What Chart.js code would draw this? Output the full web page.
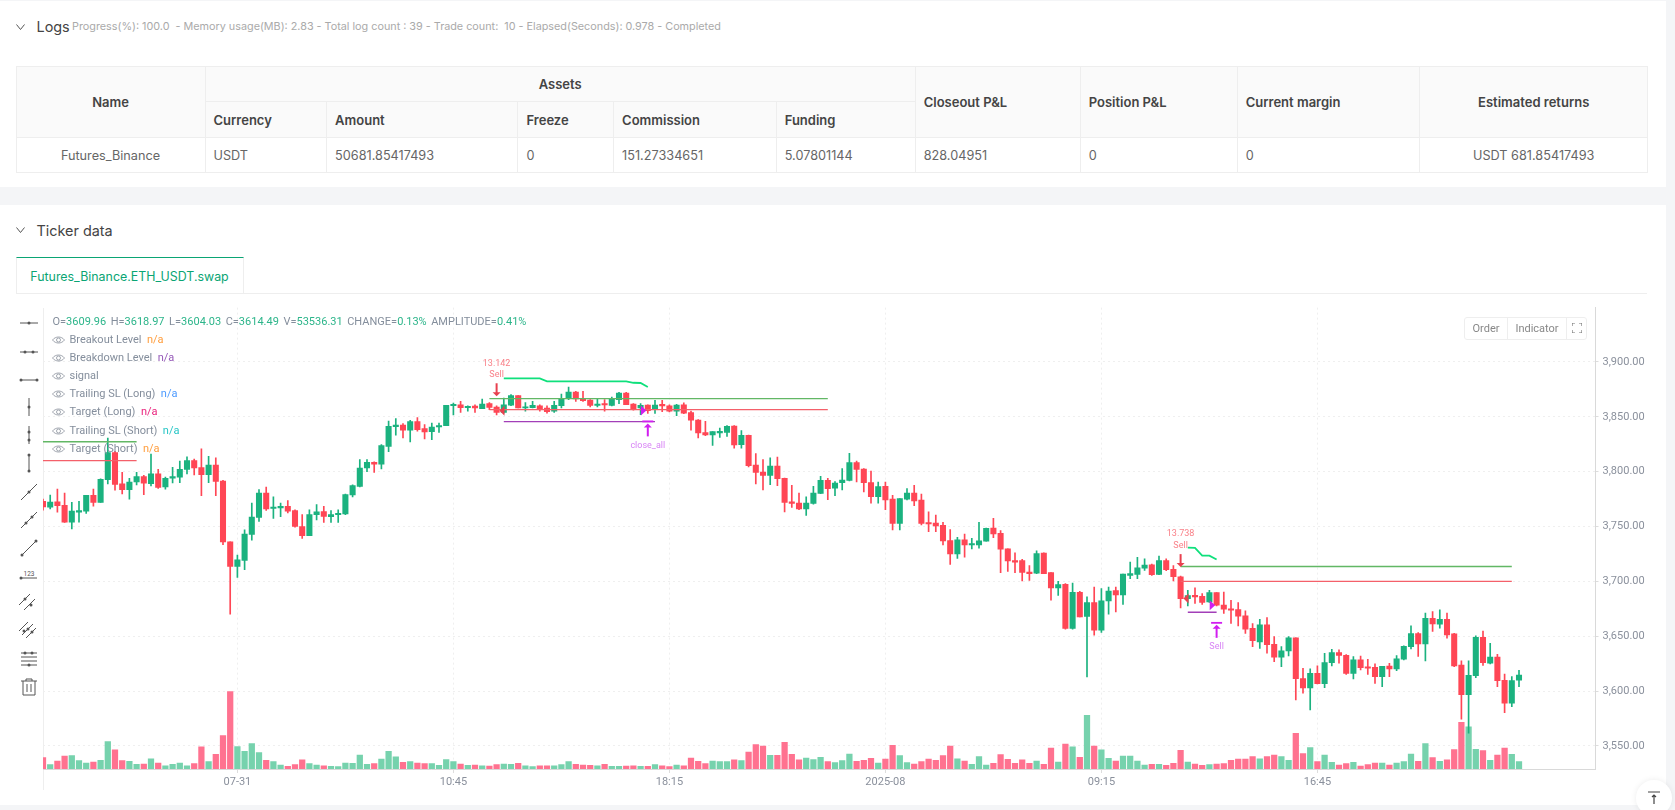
<!DOCTYPE html>
<html>
<head>
<meta charset="utf-8">
<title>Ticker data</title>
<script src="https://cdn.jsdelivr.net/npm/chart.js@4/dist/chart.umd.min.js"></script>
<style>
html,body{margin:0;padding:0;width:1675px;height:810px;overflow:hidden;background:#f4f5f7;font-family:Inter,Roboto,sans-serif}
.abs{position:absolute}
.card{position:absolute;left:0;width:1666px;background:#fff}
.head{position:absolute;font-size:14.4px;color:#444;line-height:20px}
.chev{position:absolute;left:16px;width:9px;height:6px}
#summary{position:absolute;left:72px;top:19px;font-size:10.8px;line-height:16px;color:#aaa;white-space:pre}
table{position:absolute;left:15.5px;top:66px;width:1631.5px;height:106px;table-layout:fixed;border-collapse:collapse;font-size:12.7px;color:#666}
th,td{border:1px solid #eee;padding:0 8px;text-align:left;font-weight:400;white-space:nowrap}
th{background:#fafafa;font-weight:600;color:#444;font-size:13px}
.c{text-align:center}
#tab{position:absolute;left:15.5px;top:257px;width:226px;height:35px;border-top:1px solid #0aa574;border-right:1px solid #eee;border-left:1px solid #eee;box-sizing:content-box;color:#0aa574;font-size:12.4px;line-height:37px;text-align:center}
#tabline{position:absolute;left:15.5px;top:293px;width:1631.5px;height:1px;background:#eee}
#sideline{position:absolute;left:43px;top:308px;width:1px;height:482px;background:#eee}
#wrap{position:absolute;left:43px;top:297px;width:1610px;height:503px}
#ohlc{position:absolute;left:52.5px;top:315px;font:11px/14px Roboto,sans-serif;color:#848e9c;white-space:pre;word-spacing:-.45px}
#ohlc b{font-weight:400;color:#2cb58a}
.lg{position:absolute;left:52px;height:14px;font:11px/14px Roboto,sans-serif;color:#848e9c;white-space:pre}
.lg svg{position:absolute;left:0;top:2px}
.lg span{position:absolute;left:17.5px}
#btns{position:absolute;left:1464px;top:317px;width:121px;height:21px;border:1px solid #eee;border-radius:3px;background:#fff;font:11px/21px Roboto,sans-serif;color:#888}
#btns div{position:absolute;top:0;height:21px;text-align:center}
#totop{position:absolute;left:1636px;top:780px;width:36px;height:36px;border-radius:18px;background:#fff;box-shadow:0 0 6px rgba(0,0,0,.08)}
</style>
</head>
<body>
<div class="card" style="top:1px;height:186px"></div>
<div class="card" style="top:205px;height:600px"></div>

<svg class="chev" style="top:24px" viewBox="0 0 9 6"><path d="M.5.5 4.5 5.5 8.5.5" fill="none" stroke="#555"/></svg>
<div class="head" style="left:36.5px;top:17px">Logs</div>
<div id="summary">Progress(%): 100.0  - Memory usage(MB): 2.83 - Total log count : 39 - Trade count:  10 - Elapsed(Seconds): 0.978 - Completed</div>

<table>
<colgroup><col style="width:189px"><col style="width:121.6px"><col style="width:191.4px"><col style="width:95.6px"><col style="width:162.6px"><col style="width:139px"><col style="width:165px"><col style="width:157px"><col style="width:182.7px"><col style="width:227.6px"></colgroup>
<tr style="height:35px"><th rowspan="2" class="c">Name</th><th colspan="5" class="c">Assets</th><th rowspan="2">Closeout P&amp;L</th><th rowspan="2">Position P&amp;L</th><th rowspan="2">Current margin</th><th rowspan="2" class="c">Estimated returns</th></tr>
<tr style="height:36px"><th>Currency</th><th>Amount</th><th>Freeze</th><th>Commission</th><th>Funding</th></tr>
<tr style="height:35px"><td class="c">Futures_Binance</td><td>USDT</td><td>50681.85417493</td><td>0</td><td>151.27334651</td><td>5.07801144</td><td>828.04951</td><td>0</td><td>0</td><td class="c">USDT 681.85417493</td></tr>
</table>

<svg class="chev" style="top:227px" viewBox="0 0 9 6"><path d="M.5.5 4.5 5.5 8.5.5" fill="none" stroke="#555"/></svg>
<div class="head" style="left:36.5px;top:221px">Ticker data</div>
<div id="tab">Futures_Binance.ETH_USDT.swap</div>
<div id="tabline"></div>

<div id="sideline"></div>
<div id="wrap"><canvas id="chart" width="1610" height="503"></canvas></div>

<div id="ohlc"></div>
<div id="legend"></div>
<div id="tools"></div>

<div id="btns">
  <div style="left:0;width:42px;border-right:1px solid #eee">Order</div>
  <div style="left:43px;width:58px;border-right:1px solid #eee">Indicator</div>
  <svg class="abs" style="left:107px;top:5px" width="10" height="10" viewBox="0 0 10 10"><path d="M0 3V0H3M7 0H10V3M10 7V10H7M3 10H0V7" fill="none" stroke="#777" stroke-width="1.2"/></svg>
</div>
<div id="totop"><svg class="abs" style="left:11px;top:11px" width="14" height="14" viewBox="0 0 14 14"><path d="M1 1H13M7 13V4M5 6 7 4 9 6" fill="none" stroke="#444" stroke-width="1.2"/></svg></div>

<script>
// 15 minute candles
var opens = [
  3773,3767.7,3772.6,3769.3,3754,3763,3764,3778.5,3772,3792.7,
  3817.3,3789,3783.5,3790.6,3795.4,3789,3798,3786,3794,3795,
  3802,3810,3803.6,3797.3,3806,3791.5,3736,3713.6,3719,3742.7,
  3758.3,3780.5,3766.5,3767,3768.4,3764.4,3750,3741.6,3760.8,3763.5,
  3759,3760.8,3761.4,3778.7,3786.6,3803.3,3808.5,3806.7,3823,3841,
  3842.5,3837.7,3845.6,3839.2,3836.4,3840.7,3841.9,3860.2,3861,3858.4,
  3859.8,3857.4,3862,3858.9,3854,3860.5,3869.3,3858,3858.3,3860,
  3858,3855,3860.2,3866.5,3872.6,3866.5,3865.3,3860.4,3862,3860.4,
  3865.6,3871.7,3861.6,3858,3860.7,3856.5,3861.3,3860,3855,3861,
  3853.8,3847,3835.5,3833.4,3835.2,3835.8,3841.6,3824.6,3833,3806,
  3799.6,3796.6,3805.1,3793.9,3772.6,3771.3,3766,3771,3780.2,3792,
  3785,3790,3792.1,3808.2,3802.4,3790,3777.3,3786.7,3775,3752.9,
  3775,3780.4,3774,3753.5,3753.2,3751,3737.2,3725,3737.8,3733.2,
  3733.2,3736.6,3748.6,3743.8,3729.6,3719,3719,3708.5,3707.5,3725.7,
  3707.9,3694,3697.3,3657.1,3690,3668,3680.7,3655.6,3682.2,3691.5,
  3687.6,3705.4,3706.3,3712,3715,3706.3,3719,3710.9,3704.2,3684.3,
  3687.3,3686.4,3681.3,3689.8,3678.3,3675,3674.3,3668.6,3657.1,3644.8,
  3660.3,3642.7,3630.9,3636.6,3648.5,3611.4,3602.9,3616.3,3606.8,3626,
  3635,3632.7,3616,3628.4,3622,3621.7,3613.2,3622.9,3620.2,3629,
  3640.6,3652.4,3643,3666.4,3661,3665.5,3652.1,3623.6,3596.8,3614.1,
  3649,3625.4,3630.9,3609.9,3589,3609.96
];
var highs = [
  3775,3778.7,3784,3780.5,3772,3773,3778.5,3784,3793.5,3830.7,
  3818.5,3799.4,3794,3799.4,3796.7,3816,3802,3795,3804,3809.7,
  3813.4,3811.5,3820.7,3814,3812.5,3792,3736,3724,3747,3771.4,
  3783.6,3786,3777,3771.4,3773.6,3765.3,3760.8,3765.3,3770,3768.4,
  3764.4,3765.3,3779.6,3788,3811,3811,3809,3824.6,3846,3848.3,
  3843.8,3846.8,3849.2,3842.8,3844.3,3844.3,3860.5,3862.5,3864,3860,
  3861,3866.2,3863,3860,3867,3870.2,3869.3,3863,3864,3861,
  3860,3864,3870.7,3877,3873.2,3873.2,3865.6,3866.2,3865.6,3868,
  3872.3,3872.3,3862,3862,3861,3865,3865,3861,3861.3,3862.6,
  3855.3,3847.4,3845.8,3836.4,3839.8,3842,3842,3837.4,3833.4,3816.4,
  3810.9,3812.7,3813.3,3794.2,3787.5,3780.5,3777,3786.5,3795.7,3794,
  3791,3802.7,3816.6,3809.7,3802.7,3800.6,3790.6,3790.6,3778.5,3775.5,
  3784.6,3787.6,3779.5,3763.4,3760.4,3753.8,3747.1,3740.2,3743.2,3739.3,
  3753.8,3748.6,3757.4,3746.2,3729.6,3726,3720,3714.5,3727.8,3726,
  3707.9,3700,3697.9,3698.5,3691,3685.8,3694.9,3693.4,3694.9,3694.9,
  3706.6,3717.5,3722,3720.5,3715.7,3723,3720.5,3714.5,3704.8,3691.8,
  3694,3688.8,3691.8,3689.8,3690.3,3682.8,3680.7,3673.1,3661.6,3665.5,
  3667,3649.7,3640.6,3649.7,3648.5,3620.8,3620.2,3623,3634.5,3638,
  3637.5,3633.3,3631.5,3632,3629,3624.8,3622.6,3625.4,3632.4,3641.2,
  3659.4,3653.3,3671,3672.5,3674,3671,3652.7,3627.5,3627.5,3650.3,
  3654.6,3643.6,3633.6,3615.6,3613.2,3618.97
];
var lows = [
  3765,3766,3763,3753.8,3747.7,3754,3762,3768.5,3772,3788.8,
  3783,3779.6,3775,3788,3779,3787,3784.8,3784,3789.7,3790,
  3798,3797,3778,3790,3778,3733.4,3670,3703.6,3710.6,3737.6,
  3754.7,3764.7,3757.4,3759,3762.3,3749.5,3739.2,3741.6,3756,3753.8,
  3753.8,3753.8,3760.8,3777,3786,3800,3799.4,3802.4,3818.2,3833.2,
  3830.7,3827,3836.8,3829.8,3829.1,3835.8,3841.9,3851.6,3854,3855,
  3854,3857.4,3856.5,3851.6,3853.4,3860.2,3858,3855,3858,3855,
  3853.4,3854,3858,3865.6,3864,3864,3859,3859,3855,3860,
  3862,3861,3856,3852,3853,3853,3854.7,3854.4,3851,3852.9,
  3837.7,3830.7,3832.8,3824,3831.3,3832,3821.3,3821.3,3804.2,3788.7,
  3783.4,3788.1,3787.2,3763.2,3767.4,3765.3,3760,3770.3,3779.9,3774.5,
  3778,3783.4,3791.5,3790.6,3781.6,3771.3,3771.3,3765.3,3747,3747,
  3774.3,3768.9,3751.4,3745.3,3745.3,3733.2,3715.4,3721,3722,3729.6,
  3730.2,3736.6,3739.9,3707.9,3709,3707.9,3700.3,3700.9,3707,3707,
  3682.8,3687.3,3656.5,3656.5,3667.7,3613,3651,3653.5,3670,3672.2,
  3678.9,3702.4,3702.4,3710,3705.4,3706,3709.7,3700.3,3675.8,3677.6,
  3679.8,3678.9,3680.7,3677.6,3670.7,3661.6,3659.5,3652.6,3640.5,3638.8,
  3634.5,3626.9,3622.3,3632,3592,3598,3582.8,3606.5,3603.2,3623,
  3625.4,3615.3,3611,3619.3,3615.3,3607.1,3604,3613.2,3618.7,3628.4,
  3638.4,3631.5,3627.5,3654.3,3657.3,3648.2,3622.3,3574.3,3561.6,3612.3,
  3623.3,3624.8,3604,3580.4,3585.9,3604.03
];
var closes = [
  3767.8,3772.3,3769,3754,3764,3764.5,3778.5,3772,3793,3817.3,
  3788.4,3783.5,3790.6,3795.4,3789.4,3798,3785.7,3794,3795.4,3802,
  3810,3803.3,3797.3,3806,3791,3736,3713.6,3719.7,3743,3758.6,
  3780.5,3766,3767.8,3768.4,3764,3750,3741.6,3760.8,3763.3,3759.3,
  3760.8,3762,3779,3787.2,3803.3,3808.5,3806.7,3823.7,3841.3,3842.5,
  3837.7,3845.6,3838.3,3836.1,3840.7,3841.9,3860.5,3861,3858.3,3859.5,
  3858,3861.6,3858.6,3854,3861,3869.3,3858,3859,3860.4,3857,
  3854.7,3860.4,3866.5,3872.6,3866.2,3864.7,3860.4,3861.3,3860.7,3866.2,
  3871.7,3861,3857.4,3860.4,3855.6,3860.7,3859.8,3855,3860.7,3853.2,
  3846.8,3835.2,3833.4,3836.4,3836.7,3841.3,3824.3,3833,3805.4,3799.3,
  3796.6,3805.1,3793.6,3772,3771,3766,3771.3,3780.5,3792,3784.5,
  3789.6,3792.4,3808.2,3802,3790,3777.3,3786.4,3774.3,3752.9,3775.5,
  3780.4,3773.4,3752.9,3752.3,3750.5,3736.9,3725,3737.8,3733.2,3734.5,
  3736.9,3748.3,3743.2,3729.3,3718.7,3717.5,3708.2,3707,3725.4,3707,
  3694,3697,3657.1,3690,3667.7,3680.7,3655.6,3682.2,3691.2,3687.6,
  3706.6,3707,3712.4,3714.8,3706,3719,3710.6,3704.2,3684.3,3687,
  3685.8,3680.7,3689.8,3678.3,3674.6,3673.7,3668.3,3656.5,3645.9,3660.3,
  3642.4,3630.9,3636.6,3648.5,3611.4,3602.9,3616.3,3606.8,3626,3635,
  3632.4,3616,3628.4,3621.4,3620.8,3613.2,3622.6,3620.2,3629.3,3640.9,
  3652.4,3643,3666.4,3661.2,3665.5,3651.2,3623,3596.8,3614.4,3649,
  3626,3630.9,3609.6,3589,3609.6,3614.49
];
// volume in thousands
var volumes = [
  83,32,58,95,97,61,44,51,63,200,
  139,61,56,34,36,75,44,24,34,44,
  24,39,161,54,107,243,564,163,129,185,
  119,63,54,29,19,32,66,39,29,24,
  19,17,44,41,102,34,39,73,129,88,
  49,54,44,39,39,27,68,54,36,27,
  29,24,22,32,36,34,41,24,17,24,
  24,24,32,54,34,29,27,24,34,19,
  19,22,24,19,19,32,24,17,29,24,
  80,56,39,58,54,54,66,61,124,178,
  168,100,100,195,107,66,80,68,85,54,
  46,61,109,56,63,78,44,73,173,97,
  46,36,54,73,63,97,168,75,58,34,
  90,29,41,105,71,41,66,41,58,34,
  153,51,182,161,85,392,168,139,78,58,
  95,95,58,29,34,34,27,41,136,51,
  36,27,32,36,39,63,73,73,90,75,
  90,102,90,63,260,112,156,54,102,49,
  29,39,49,22,32,44,44,29,44,54,
  109,56,185,83,56,66,141,341,307,144,
  134,63,102,153,107,53.536
];

var priceTicks = [3550,3600,3650,3700,3750,3800,3850,3900];
var timeTickIdx = [27,57,87,117,147,177];
var timeTickLabels = ['07-31','10:45','18:15','2025-08','09:15','16:45'];

// breakout / stop levels of the two trades
var greenLevelStart = [0,62,158];
var greenLevelEnd = [13,109,204];
var greenLevelPrice = [3827.3,3866.5,3713.5];
var redLevelStart = [0,62,158];
var redLevelEnd = [13,109,204];
var redLevelPrice = [3810,3856.5,3700];
var purpleLevelStart = [64,159];
var purpleLevelEnd = [85,163];
var purpleLevelPrice = [3845.6,3671.9];

var trailIdxA = [64,69,70,81,82,83,84];
var trailPriceA = [3885,3885,3882.3,3882.3,3881,3880.8,3877.2];
var trailIdxB = [159,160,161,162,163];
var trailPriceB = [3730.8,3730.5,3723.5,3723.5,3720];

// trade marks
var sellIdx = [63,158];
var sellTip = [3868.7,3713];
var sellText = ['13.142','13.738'];
var closeIdx = [84,163];
var closeTip = [3845.8,3662.2];
var closeText = ['close_all','Sell'];
var entryIdx = [63.4,158.4];
var entryPrice = [3855.5,3684.3];
var exitIdx = [83.8,162.8];
var exitPrice = [3855.8,3678.2];

var upColor = '#1bb27f', downColor = '#ff4655';
var upVol = '#76d2ad', downVol = '#ff7290';

function isUp(i) { return closes[i] >= opens[i]; }

function segment(a, b, price) {
  return [{x: a, y: price}, {x: b, y: price}];
}

var datasets = [];
datasets.push({
  type: 'bar', yAxisID: 'yVol', grouped: false, order: 30, barThickness: 5.6,
  data: volumes.map(function (v, i) { return {x: i, y: v}; }),
  backgroundColor: volumes.map(function (v, i) { return isUp(i) ? upVol : downVol; })
});
datasets.push({
  type: 'bar', yAxisID: 'y', grouped: false, order: 20, barThickness: 1,
  data: highs.map(function (h, i) { return {x: i, y: [lows[i], h]}; }),
  backgroundColor: highs.map(function (h, i) { return isUp(i) ? upColor : downColor; })
});
datasets.push({
  type: 'bar', yAxisID: 'y', grouped: false, order: 10, barThickness: 5.4, minBarLength: 1.2,
  data: opens.map(function (o, i) { return {x: i, y: [o, closes[i]]}; }),
  backgroundColor: opens.map(function (o, i) { return isUp(i) ? upColor : downColor; })
});

function addLevels(starts, ends, prices, color) {
  starts.forEach(function (s, k) {
    datasets.push({
      type: 'line', yAxisID: 'y', order: 5, data: segment(s, ends[k], prices[k]),
      borderColor: color, borderWidth: 1.4, pointRadius: 0
    });
  });
}
addLevels(greenLevelStart, greenLevelEnd, greenLevelPrice, '#62b765');
addLevels(redLevelStart, redLevelEnd, redLevelPrice, '#f4606a');
addLevels(purpleLevelStart, purpleLevelEnd, purpleLevelPrice, '#a23fb8');

[[trailIdxA, trailPriceA], [trailIdxB, trailPriceB]].forEach(function (t) {
  datasets.push({
    type: 'line', yAxisID: 'y', order: 4,
    data: t[0].map(function (x, k) { return {x: x, y: t[1][k]}; }),
    borderColor: '#0fe07c', borderWidth: 1.8, pointRadius: 0
  });
});

function triangle(c, x1, y1, x2, y2, x3, y3) {
  c.beginPath(); c.moveTo(x1, y1); c.lineTo(x2, y2); c.lineTo(x3, y3); c.closePath(); c.fill();
}

// arrows and the small text next to them
var tradeMarks = {
  id: 'tradeMarks',
  afterDatasetsDraw: function (chart) {
    var c = chart.ctx, x = chart.scales.x, y = chart.scales.y;
    c.save();
    c.font = '9px Roboto';
    c.textAlign = 'center';
    c.textBaseline = 'middle';
    sellIdx.forEach(function (idx, k) {
      var px = x.getPixelForValue(idx), tip = y.getPixelForValue(sellTip[k]);
      c.strokeStyle = c.fillStyle = '#e8404e';
      c.lineWidth = 2;
      c.beginPath(); c.moveTo(px, tip - 13); c.lineTo(px, tip - 3); c.stroke();
      triangle(c, px - 4, tip - 4, px + 4, tip - 4, px, tip);
      c.fillStyle = '#f98088';
      c.fillText('Sell', px, tip - 21.5);
      c.fillText(sellText[k], px, tip - 33);
    });
    closeIdx.forEach(function (idx, k) {
      var px = x.getPixelForValue(idx), tip = y.getPixelForValue(closeTip[k]);
      c.strokeStyle = c.fillStyle = '#d11ef0';
      c.lineWidth = 1.8;
      c.beginPath(); c.moveTo(px - 5.5, tip); c.lineTo(px + 5.5, tip); c.stroke();
      c.lineWidth = 2;
      c.beginPath(); c.moveTo(px, tip + 5); c.lineTo(px, tip + 15); c.stroke();
      triangle(c, px - 4, tip + 6, px + 4, tip + 6, px, tip + 2);
      c.fillStyle = '#d884f5';
      c.fillText(closeText[k], px, tip + 24);
    });
    entryIdx.forEach(function (idx, k) {
      var px = x.getPixelForValue(idx), py = y.getPixelForValue(entryPrice[k]);
      c.fillStyle = '#e8404e';
      triangle(c, px, py, px + 5, py - 5, px + 5, py + 5);
    });
    exitIdx.forEach(function (idx, k) {
      var px = x.getPixelForValue(idx), py = y.getPixelForValue(exitPrice[k]);
      c.fillStyle = '#d11ef0';
      triangle(c, px, py, px - 5.5, py - 5, px - 5.5, py + 5);
    });
    c.restore();
  }
};

new Chart(document.getElementById('chart'), {
  data: {datasets: datasets},
  plugins: [tradeMarks],
  options: {
    responsive: false,
    animation: false,
    events: [],
    layout: {padding: 0},
    plugins: {legend: {display: false}, tooltip: {enabled: false}},
    scales: {
      x: {
        type: 'linear', min: 0, max: 215.625, bounds: 'data', offset: false,
        afterBuildTicks: function (axis) {
          axis.ticks = timeTickIdx.map(function (v) { return {value: v}; });
        },
        afterFit: function (axis) { axis.height = 31; },
        grid: {color: '#efefef', tickLength: 4, tickColor: '#ddd', offset: false},
        border: {color: '#d9d9d9', dash: [2, 3]},
        ticks: {
          autoSkip: false, maxRotation: 0, padding: 3,
          color: '#8a909c', font: {family: 'Roboto', size: 11},
          callback: function (v, i) { return timeTickLabels[i]; }
        }
      },
      y: {
        position: 'right', min: 3529, max: 3949.5, bounds: 'data',
        afterBuildTicks: function (axis) {
          axis.ticks = priceTicks.map(function (v) { return {value: v}; });
        },
        afterFit: function (axis) { axis.width = 57.5; },
        grid: {color: '#efefef', tickLength: 3, tickColor: '#ddd'},
        border: {color: '#d9d9d9', dash: [2, 3]},
        ticks: {
          padding: 4, color: '#8a909c', font: {family: 'Roboto', size: 11},
          callback: function (v) {
            return v.toLocaleString('en-US', {minimumFractionDigits: 2});
          }
        }
      },
      yVol: {display: false, min: 0, max: 3365}
    }
  }
});

// overlay text on the chart
var ohlcParts = [['O=','3609.96'],['H=','3618.97'],['L=','3604.03'],['C=','3614.49'],['V=','53536.31'],['CHANGE=','0.13%'],['AMPLITUDE=','0.41%']];
document.getElementById('ohlc').innerHTML = ohlcParts.map(function (p) {
  return p[0] + '<b>' + p[1] + '</b>';
}).join('  ');

var legendNames = ['Breakout Level','Breakdown Level','signal','Trailing SL (Long)','Target (Long)','Trailing SL (Short)','Target (Short)'];
var legendValues = ['n/a','n/a','','n/a','n/a','n/a','n/a'];
var legendColors = ['#ff9d3d','#9558b8','','#4c9aff','#e91e7a','#26c6c6','#ff9d3d'];
var eye = '<svg width="13" height="10" viewBox="0 0 13 10"><path d="M.5 5C3.5 1 9.5 1 12.5 5 9.5 9 3.5 9 .5 5Z" fill="none" stroke="#8a909c" stroke-width=".8"/><circle cx="6.5" cy="5" r="2" fill="none" stroke="#8a909c" stroke-width=".8"/></svg>';
document.getElementById('legend').innerHTML = legendNames.map(function (n, i) {
  return '<div class="lg" style="top:' + (333 + i * 18.1) + 'px">' + eye + '<span>' + n +
    '&nbsp;&nbsp;<font color="' + legendColors[i] + '">' + legendValues[i] + '</font></span></div>';
}).join('');

// drawing tool icons down the left side
var toolY = [323,351.7,379.7,407,435,463,492,520,548,575,602,630,659,687];
var seg = function (d) { return '<path d="' + d + '" fill="none" stroke="#555" stroke-width="1"/>'; };
var dot = function (x, y) { return '<circle cx="' + x + '" cy="' + y + '" r="1.5" fill="#555"/>'; };
var toolIcons = [
  seg('M1 10H19') + dot(10, 10),
  seg('M1 10H19') + dot(6, 10) + dot(14, 10),
  seg('M2 10H18') + dot(2, 10) + dot(18, 10),
  seg('M10 1V19') + dot(10, 10),
  seg('M10 1V19') + dot(10, 7) + dot(10, 15),
  seg('M10 2V18') + dot(10, 2) + dot(10, 18),
  seg('M2 18 18 2') + dot(10, 10),
  seg('M2 18 18 2') + dot(7, 13) + dot(13, 7),
  seg('M3 17 17 3') + dot(3, 17) + dot(17, 3),
  seg('M2 13H18') + dot(2, 13) + '<text x="10" y="11" font-size="6.5" text-anchor="middle" fill="#555" font-family="Roboto">123</text>',
  seg('M0 13 11 2M5 18 16 7') + dot(6, 7) + dot(12, 13),
  seg('M0 11 9 2M3 15 14 4M7 18 17 8') + dot(5, 11) + dot(9, 9) + dot(13, 12),
  seg('M2 4H18M2 8H18M2 12H18M2 16H18') + dot(6, 4) + dot(13, 4) + dot(10, 16),
  seg('M2 4H18M7 4V2H13V4M4 4V18H16V4M8 7V15M12 7V15')
];
document.getElementById('tools').innerHTML = toolIcons.map(function (ic, i) {
  return '<svg class="abs" style="left:18.7px;top:' + (toolY[i] - 10) + 'px" width="20" height="20" viewBox="0 0 20 20">' + ic + '</svg>';
}).join('');
</script>
</body>
</html>
